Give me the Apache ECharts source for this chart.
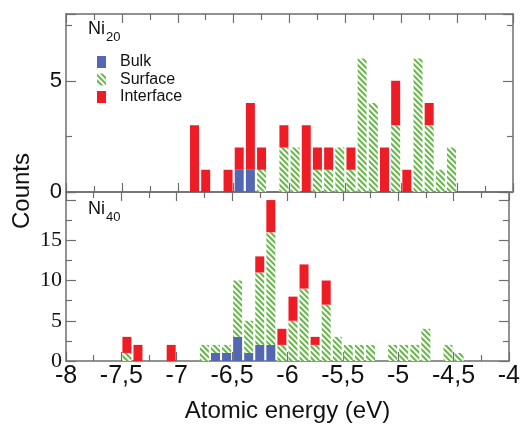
<!DOCTYPE html>
<html>
<head>
<meta charset="utf-8">
<script src="https://cdn.jsdelivr.net/npm/echarts@6/dist/echarts.min.js"></script>
<style>
	html, body { margin: 0; padding: 0; background: #fff; }
	#chart { width: 523px; height: 424px; }
</style>
</head>
<body>
<div id="chart"></div>
<script>
// histogram bins, 0.1 eV wide, from -8 to -4 eV (bin centres)
var bins = [-7.95, -7.85, -7.75, -7.65, -7.55, -7.45, -7.35, -7.25, -7.15, -7.05,
	-6.95, -6.85, -6.75, -6.65, -6.55, -6.45, -6.35, -6.25, -6.15, -6.05,
	-5.95, -5.85, -5.75, -5.65, -5.55, -5.45, -5.35, -5.25, -5.15, -5.05,
	-4.95, -4.85, -4.75, -4.65, -4.55, -4.45, -4.35, -4.25, -4.15, -4.05];

// Ni20: occupied bins and counts per site type
var energies20 = [-6.85, -6.75, -6.55, -6.45, -6.35, -6.25, -6.05, -5.95, -5.85, -5.75, -5.65,
	-5.55, -5.45, -5.35, -5.25, -5.15, -5.05, -4.95, -4.85, -4.75, -4.65, -4.55];
var bulk20 = [0, 0, 0, 1, 1, 0, 0, 0, 0, 0, 0, 0, 0, 0, 0, 0, 0, 0, 0, 0, 0, 0];
var surface20 = [0, 0, 0, 0, 0, 1, 2, 2, 0, 1, 1, 2, 1, 6, 4, 0, 3, 0, 6, 3, 1, 2];
var interface20 = [3, 1, 1, 1, 3, 1, 1, 0, 3, 1, 1, 0, 1, 0, 0, 2, 2, 1, 0, 1, 0, 0];

// Ni40
var energies40 = [-7.45, -7.35, -7.05, -6.75, -6.65, -6.55, -6.45, -6.35, -6.25, -6.15, -6.05,
	-5.95, -5.85, -5.75, -5.65, -5.55, -5.45, -5.35, -5.25, -5.05, -4.95, -4.85, -4.75, -4.55, -4.45];
var bulk40 = [0, 0, 0, 0, 1, 1, 3, 1, 2, 2, 0, 0, 0, 0, 0, 0, 0, 0, 0, 0, 0, 0, 0, 0, 0];
var surface40 = [1, 0, 0, 2, 1, 1, 7, 4, 9, 14, 2, 5, 9, 2, 7, 3, 2, 2, 2, 2, 2, 2, 4, 2, 1];
var interface40 = [2, 2, 2, 0, 0, 0, 0, 0, 2, 4, 2, 3, 3, 1, 3, 0, 0, 0, 0, 0, 0, 0, 0, 0, 0];

var typeNames = ['Bulk', 'Surface', 'Interface'];

var axisColor = '#6e6e6e';
var sans = 'Liberation Sans, Arial, sans-serif';
var serif = 'Liberation Serif, Times New Roman, serif';

// spread counts of the occupied bins over all bins
function onBins(xs, ys) {
	return bins.map(function (b) {
		var i = xs.indexOf(b);
		return i < 0 ? 0 : ys[i];
	});
}

function binAxis(grid) {
	return {
		type: 'category', gridIndex: grid, data: bins, boundaryGap: true,
		show: false
	};
}

function xAxisOf(grid, pos, labels) {
	return {
		type: 'value', gridIndex: grid, position: pos,
		min: -8, max: -4, interval: 0.5,
		axisLine: { show: true, onZero: false, lineStyle: { color: axisColor, width: 1.5 } },
		axisTick: { show: true, inside: true, length: 9, lineStyle: { color: axisColor, width: 1.2 } },
		minorTick: { show: true, splitNumber: 2, length: 6, lineStyle: { color: axisColor, width: 1.2 } },
		splitLine: { show: false },
		axisLabel: {
			show: labels, margin: 3, fontSize: 25, color: '#111', fontFamily: sans,
			formatter: function (v) { return String(v).replace('.', ','); }
		},
		name: labels ? 'Atomic energy (eV)' : '',
		nameLocation: 'middle', nameGap: 38,
		nameTextStyle: { fontSize: 24, color: '#111', fontFamily: sans }
	};
}

function yAxisOf(grid, pos, max, labelFont) {
	return {
		type: 'value', gridIndex: grid, position: pos,
		min: 0, max: max, interval: 5,
		axisLine: { show: true, onZero: false, lineStyle: { color: axisColor, width: 1.5 } },
		axisTick: { show: true, inside: true, length: 10, lineStyle: { color: axisColor, width: 1.2 } },
		minorTick: { show: true, splitNumber: 2, length: 6, lineStyle: { color: axisColor, width: 1.2 } },
		splitLine: { show: false },
		axisLabel: labelFont ? {
			show: true, margin: 4, fontSize: 22, color: '#111', fontFamily: labelFont,
			showMaxLabel: false,
			formatter: function (v) { return v >= 20 ? '' : v; }
		} : { show: false }
	};
}

var typeStyles = [
	{ color: '#5467b3' },
	{
		color: '#ffffff',
		decal: {
			symbol: 'rect', symbolSize: 1, color: '#62b843',
			dashArrayX: [1, 0], dashArrayY: [1.6, 1.3], rotation: Math.PI / 4
		}
	},
	{ color: '#ee1c25' }
];

function seriesFor(grid, xs, lists) {
	return lists.map(function (vals, k) {
		return {
			name: typeNames[k], type: 'bar',
			xAxisIndex: grid * 3, yAxisIndex: grid * 2,
			stack: 'ni' + grid, barWidth: 9,
			itemStyle: typeStyles[k],
			emphasis: { disabled: true },
			data: onBins(xs, vals)
		};
	});
}

var chart = echarts.init(document.getElementById('chart'));
chart.setOption({
	animation: false,
	backgroundColor: '#fff',
	grid: [
		{ left: 66, top: 14, width: 447, height: 178 },
		{ left: 66, top: 192, width: 447, height: 178 }
	],
	xAxis: [
		binAxis(0), xAxisOf(0, 'bottom', false), xAxisOf(0, 'top', false),
		binAxis(1), xAxisOf(1, 'bottom', true), xAxisOf(1, 'top', false)
	],
	yAxis: [
		yAxisOf(0, 'left', 8, sans), yAxisOf(0, 'right', 8, null),
		yAxisOf(1, 'left', 21, serif), yAxisOf(1, 'right', 21, null)
	],
	legend: {
		data: typeNames, orient: 'vertical', left: 97, top: 54, padding: 0,
		icon: 'rect', itemWidth: 9, itemHeight: 12, itemGap: 1.5,
		selectedMode: false,
		textStyle: { fontSize: 16, color: '#111', fontFamily: sans, padding: [0, 0, 0, 9] }
	},
	graphic: [
		{ type: 'text', left: 88, top: 20, style: { text: 'Ni', fontSize: 18, fill: '#111', fontFamily: sans } },
		{ type: 'text', left: 106, top: 31, style: { text: '20', fontSize: 13, fill: '#111', fontFamily: sans } },
		{ type: 'text', left: 88, top: 200, style: { text: 'Ni', fontSize: 18, fill: '#111', fontFamily: sans } },
		{ type: 'text', left: 106, top: 211, style: { text: '40', fontSize: 13, fill: '#111', fontFamily: sans } },
		{
			type: 'text', x: 22, y: 191, rotation: Math.PI / 2,
			style: { text: 'Counts', fontSize: 24, fill: '#111', fontFamily: sans, align: 'center', verticalAlign: 'middle' }
		}
	],
	series: seriesFor(0, energies20, [bulk20, surface20, interface20])
		.concat(seriesFor(1, energies40, [bulk40, surface40, interface40]))
});
</script>
</body>
</html>
